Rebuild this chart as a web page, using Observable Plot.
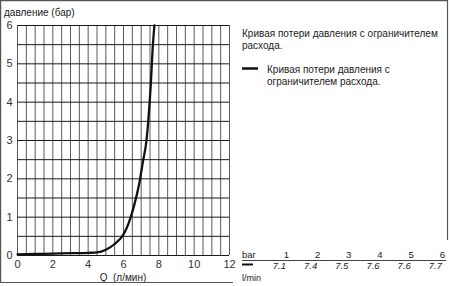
<!DOCTYPE html>
<html>
<head>
<meta charset="utf-8">
<script src="https://cdn.jsdelivr.net/npm/d3@7"></script>
<script src="https://cdn.jsdelivr.net/npm/@observablehq/plot@0.6"></script>
<style>
  html, body { margin: 0; padding: 0; background: #fff; }
  #chart svg { display: block; }
</style>
</head>
<body>
<div id="chart"></div>
<script>
// Curve: flow Q (l/min) vs pressure loss (bar)
const flowQ     = [0,    1,    2,    3,    4,    4.5,  5,    5.5,  6,    6.3,  6.6,  6.9,  7.1,  7.3,  7.4,  7.55, 7.65, 7.75];
const pressureP = [0.03, 0.04, 0.05, 0.06, 0.07, 0.08, 0.15, 0.3,  0.55, 0.85, 1.3,  1.9,  2.45, 3.0,  3.5,  4.5,  5.4,  6.0];

const xTicks = [0, 2, 4, 6, 8, 10, 12];
const yTicks = [0, 1, 2, 3, 4, 5, 6];
const xGrid = [0,0.5,1,1.5,2,2.5,3,3.5,4,4.5,5,5.5,6,6.5,7,7.5,8,8.5,9,9.5,10,10.5,11,11.5,12];
const yGrid = [0,0.5,1,1.5,2,2.5,3,3.5,4,4.5,5,5.5,6];

const tableBar  = [1, 2, 3, 4, 5, 6];
const tableFlow = ["7.1", "7.4", "7.5", "7.6", "7.6", "7.7"];

const yAxisTitle = "давление (бар)";
const xAxisTitle = "Q  (л/мин)";
const titleLines = ["Кривая потери давления с ограничителем", "расхода."];
const legendLines = ["Кривая потери давления с", "ограничителем расхода."];

const data = flowQ.map((q, i) => ({Q: q, P: pressureP[i]}));

const W = 450, H = 286;
const font = "'Liberation Sans', Arial, sans-serif";

const chart = Plot.plot({
  width: W,
  height: H,
  marginLeft: 17,
  marginRight: 221,
  marginTop: 25,
  marginBottom: 31,
  style: {fontFamily: font, fontSize: "11px", background: "#fff", color: "#222"},
  x: {domain: [0, 12], label: null},
  y: {domain: [0, 6], label: null},
  marks: [
    Plot.ruleX(xGrid, {stroke: "#5a5a5a", strokeWidth: 1}),
    Plot.ruleY(yGrid, {stroke: "#1a1a1a", strokeWidth: 1}),
    Plot.axisX({ticks: xTicks, tickSize: 0, tickPadding: 5, fontSize: 11, fill: "#333", label: null, tickFormat: d => String(d)}),
    Plot.axisY({ticks: yTicks, tickSize: 0, tickPadding: 5, fontSize: 11, fill: "#333", label: null, tickFormat: d => String(d)}),
    Plot.line(data, {x: "Q", y: "P", curve: "monotone-x", stroke: "#111", strokeWidth: 2.3})
  ]
});

document.getElementById("chart").appendChild(chart);

const svg = d3.select(chart);
const g = svg.append("g").attr("font-family", font).attr("fill", "#222").attr("text-anchor", "start");

// outer frame
const frame = svg.append("g").attr("stroke", "#555").attr("stroke-width", 1.2);
frame.append("line").attr("x1", 0).attr("x2", 448).attr("y1", 0.6).attr("y2", 0.6);
frame.append("line").attr("x1", 0.6).attr("x2", 0.6).attr("y1", 0).attr("y2", 283);
frame.append("line").attr("x1", 447.5).attr("x2", 447.5).attr("y1", 0).attr("y2", 240);
frame.append("line").attr("x1", 0).attr("x2", 233).attr("y1", 282.5).attr("y2", 282.5);

// axis titles
g.append("text").attr("x", 4).attr("y", 16).attr("font-size", 10).text(yAxisTitle);
g.append("text").attr("x", 123).attr("y", 281).attr("font-size", 10).attr("text-anchor", "middle").text(xAxisTitle);

// title text on the right
titleLines.forEach((t, i) => {
  g.append("text").attr("x", 242).attr("y", 37 + i * 12).attr("font-size", 10).text(t);
});

// legend
svg.append("line").attr("x1", 242).attr("x2", 258).attr("y1", 68.5).attr("y2", 68.5)
  .attr("stroke", "#111").attr("stroke-width", 2.5);
legendLines.forEach((t, i) => {
  g.append("text").attr("x", 267).attr("y", 73 + i * 12).attr("font-size", 10).text(t);
});

// table bar -> l/min
const colX = d3.scaleLinear().domain([0, tableBar.length - 1]).range([289, 445]);
g.append("text").attr("x", 242).attr("y", 258).attr("font-size", 9.5).text("bar");
tableBar.forEach((b, i) => {
  g.append("text").attr("x", colX(i)).attr("y", 258).attr("font-size", 9.5).attr("text-anchor", "end").text(b);
});
svg.append("line").attr("x1", 242).attr("x2", 446).attr("y1", 260.5).attr("y2", 260.5)
  .attr("stroke", "#444").attr("stroke-width", 1);
svg.append("line").attr("x1", 242).attr("x2", 253).attr("y1", 264.5).attr("y2", 264.5)
  .attr("stroke", "#111").attr("stroke-width", 2);
tableFlow.forEach((v, i) => {
  g.append("text").attr("x", colX(i) - 3).attr("y", 269).attr("font-size", 9.5)
    .attr("font-style", "italic").attr("text-anchor", "end").text(v);
});
g.append("text").attr("x", 242).attr("y", 281).attr("font-size", 9).text("l/min");
</script>
</body>
</html>
